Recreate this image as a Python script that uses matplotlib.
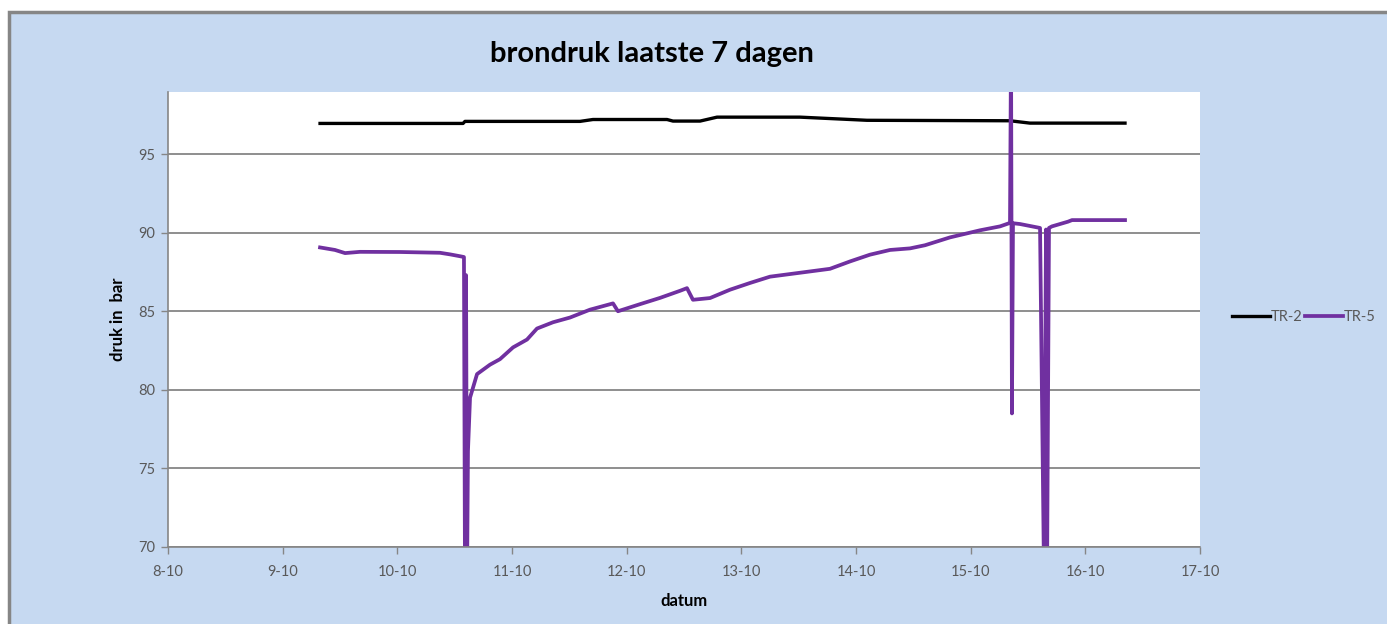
import matplotlib as mpl
import matplotlib.pyplot as plt
from matplotlib.patches import Rectangle

# x = day of October (8 -> 8-10), y = pressure in bar
tr2_day = [9.326, 10.573, 10.590, 11.593, 11.706, 12.352, 12.404, 12.640,
           12.788, 13.512, 14.096, 15.343, 15.517, 16.346]
tr2_bar = [96.95, 96.95, 97.08, 97.08, 97.2, 97.2, 97.1, 97.1,
           97.35, 97.35, 97.15, 97.12, 96.97, 96.97]

tr5_day = [9.326, 9.456, 9.544, 9.674, 10.023, 10.372, 10.459, 10.547, 10.581,
           10.590, 10.599, 10.608, 10.616, 10.634, 10.695, 10.808, 10.895, 11.009,
           11.131, 11.218, 11.358, 11.506, 11.680, 11.881, 11.924, 12.116, 12.291,
           12.465, 12.526, 12.578, 12.727, 12.901, 13.076, 13.250, 13.512, 13.773,
           13.948, 14.122, 14.297, 14.471, 14.602, 14.820, 15.081, 15.256, 15.343,
           15.352, 15.360, 15.369, 15.430, 15.605, 15.640, 15.657, 15.666, 15.683,
           15.709, 15.779, 15.849, 15.884, 16.346]
tr5_bar = [89.06, 88.9, 88.7, 88.78, 88.77, 88.72, 88.62, 88.5, 88.45,
           68.0, 87.3, 68.0, 76.1, 79.5, 81.0, 81.6, 81.95, 82.7,
           83.2, 83.9, 84.3, 84.6, 85.1, 85.5, 85.0, 85.45, 85.85,
           86.3, 86.47, 85.73, 85.84, 86.37, 86.8, 87.2, 87.45, 87.7,
           88.17, 88.6, 88.9, 89.0, 89.2, 89.7, 90.15, 90.4, 90.62,
           102.0, 78.5, 90.6, 90.55, 90.3, 68.0, 90.2, 68.0, 90.3,
           90.4, 90.55, 90.7, 90.8, 90.8]

x_ticks = [8, 9, 10, 11, 12, 13, 14, 15, 16, 17]
x_labels = ["%d-10" % d for d in x_ticks]
y_ticks = [70, 75, 80, 85, 90, 95]

bg = '#c6d9f1'
grey = '#868686'
txt = '#595959'
plt.rcParams['font.family'] = ['Lato', 'DejaVu Sans']

fig = plt.figure(figsize=(13.87, 6.24), dpi=100)
fig.patch.set_facecolor('white')
# chart area with grey border on top/left
fig.patches.append(Rectangle((9 / 1387, -0.1), 1.2, 1 - 12 / 624 + 0.1,
                             transform=fig.transFigure, facecolor=bg,
                             edgecolor=grey, lw=2.5, zorder=-10))

ax = fig.add_axes([168 / 1387, 1 - 547 / 624, (1200 - 168) / 1387, (547 - 92) / 624])
ax.set_facecolor('white')

ax.plot(tr2_day, tr2_bar, color='#000000', lw=2.4, label='TR-2', solid_joinstyle='round')
ax.plot(tr5_day, tr5_bar, color='#7030a0', lw=2.7, label='TR-5', solid_joinstyle='round')

ax.set_xlim(8, 17)
ax.set_ylim(70, 98.95)
ax.set_xticks(x_ticks)
ax.set_xticklabels(x_labels)
ax.set_yticks(y_ticks)
ax.yaxis.grid(True, color=grey, lw=1.3)
ax.set_axisbelow(True)

for s in ['top', 'right']:
    ax.spines[s].set_visible(False)
for s in ['left', 'bottom']:
    ax.spines[s].set_color(grey)
    ax.spines[s].set_linewidth(1.2)
ax.tick_params(axis='both', colors=grey, labelcolor=txt, labelsize=10.5,
               length=5, width=1)
ax.tick_params(axis='x', pad=8)
ax.tick_params(axis='y', pad=4)

ax.set_xlabel('datum', fontsize=12, fontweight='bold', color='black', labelpad=10)
ax.set_ylabel('druk in  bar', fontsize=12, fontweight='bold', color='black', labelpad=9)
fig.text(652 / 1387, 1 - 54 / 624, 'brondruk laatste 7 dagen', ha='center', va='center',
         fontsize=21, fontweight='bold')

fig.legend(loc='center left', bbox_to_anchor=(1226 / 1387, 1 - 317 / 624), ncol=2,
           frameon=False, fontsize=10.5, labelcolor=txt, handlelength=2.6,
           handletextpad=0.05, columnspacing=0.2, borderaxespad=0)

fig.savefig('out.png', dpi=100)
